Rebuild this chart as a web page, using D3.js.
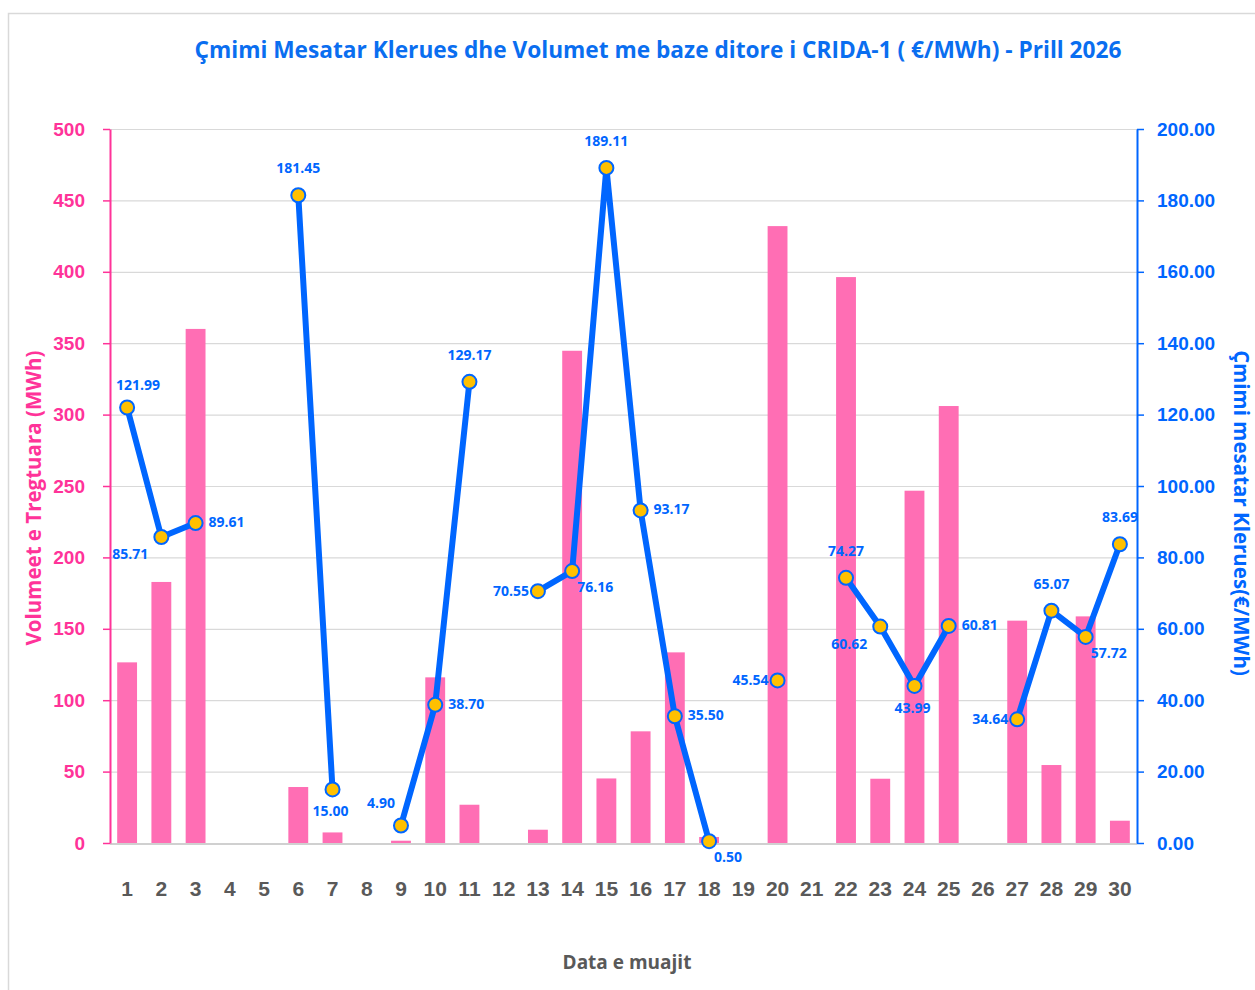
<!DOCTYPE html>
<html>
<head>
<meta charset="utf-8">
<script src="https://cdn.jsdelivr.net/npm/d3@7"></script>
<style>
  body { margin: 0; background: #fff; }
  svg { display: block; font-family: "Open Sans", "Noto Sans", sans-serif; }
</style>
</head>
<body>
<div id="chart"></div>
<script>
// Daily data, April 2026
var days = d3.range(1, 31);
var volume = [126.5, 182.8, 360, 0, 0, 39.2, 7.4, 0, 1.6, 116, 26.8, 0, 9.3, 344.7, 45.2,
  78.2, 133.5, 4.2, 0, 432, 0, 396.3, 45, 246.7, 306, 0, 155.7, 54.6, 158.7, 15.6];
var price = [121.99, 85.71, 89.61, null, null, 181.45, 15.00, null, 4.90, 38.70, 129.17, null,
  70.55, 76.16, 189.11, 93.17, 35.50, 0.50, null, 45.54, null, 74.27, 60.62, 43.99, 60.81,
  null, 34.64, 65.07, 57.72, 83.69];
// where each price label sits relative to its point
var labelSide = ['tr', 'bl', 'r', null, null, 't', 'b', null, 'tl', 'r', 't', null,
  'l', 'br', 't', 'r', 'r', 'br', null, 'l', null, 't', 'bl', 'b', 'r',
  null, 'l', 't', 'br', 't'];
var volTicks = d3.range(0, 501, 50);
var priceTicks = d3.range(0, 201, 20);

var W = 1255, H = 990;
var plotLeft = 110, plotRight = 1137, plotTop = 129, plotBottom = 843;

var pink = '#FF3399', barPink = '#FF6EB4', blue = '#0066FF', grey = '#595959';

var svg = d3.select('#chart').append('svg')
  .attr('width', W)
  .attr('height', H);

// outer frame
svg.append('rect')
  .attr('x', 8.5).attr('y', 13.5)
  .attr('width', 1270).attr('height', 1000)
  .attr('fill', 'none')
  .attr('stroke', '#d9d9d9')
  .attr('stroke-width', 1.5);

var x = d3.scaleBand().domain(days).range([plotLeft, plotRight]).paddingInner(0.42).paddingOuter(0.21);
var yL = d3.scaleLinear().domain([0, 500]).range([plotBottom, plotTop]);
var yR = d3.scaleLinear().domain([0, 200]).range([plotBottom, plotTop]);

// gridlines
svg.append('g')
  .selectAll('line')
  .data(volTicks.filter(d => d > 0))
  .enter().append('line')
  .attr('x1', plotLeft).attr('x2', plotRight)
  .attr('y1', d => yL(d) + 0.5).attr('y2', d => yL(d) + 0.5)
  .attr('stroke', '#d9d9d9')
  .attr('stroke-width', 1.2);

// bars
svg.append('g')
  .selectAll('rect')
  .data(volume)
  .enter().append('rect')
  .attr('x', (d, i) => x(days[i]))
  .attr('width', x.bandwidth())
  .attr('y', d => yL(d))
  .attr('height', d => plotBottom - yL(d))
  .attr('fill', barPink);

// x baseline
svg.append('line')
  .attr('x1', plotLeft).attr('x2', plotRight)
  .attr('y1', plotBottom + 1).attr('y2', plotBottom + 1)
  .attr('stroke', '#d0d0d0')
  .attr('stroke-width', 2);

// left axis
var gL = svg.append('g')
  .attr('transform', 'translate(' + plotLeft + ',0)')
  .call(d3.axisLeft(yL).tickValues(volTicks).tickSize(7).tickPadding(18).tickSizeOuter(0));
gL.select('.domain').attr('stroke', pink).attr('stroke-width', 2);
gL.selectAll('.tick line').attr('stroke', pink).attr('stroke-width', 1.5);
gL.selectAll('.tick text')
  .attr('fill', pink)
  .style('font-size', '19px')
  .style('font-weight', 'bold');

// right axis
var gR = svg.append('g')
  .attr('transform', 'translate(' + plotRight + ',0)')
  .call(d3.axisRight(yR).tickValues(priceTicks).tickSize(7).tickPadding(13).tickSizeOuter(0)
    .tickFormat(d3.format('.2f')));
gR.select('.domain').attr('stroke', blue).attr('stroke-width', 2);
gR.selectAll('.tick line').attr('stroke', blue).attr('stroke-width', 1.5);
gR.selectAll('.tick text')
  .attr('fill', blue)
  .style('font-size', '19px')
  .style('font-weight', 'bold');

// x tick labels
var gX = svg.append('g')
  .attr('transform', 'translate(0,' + plotBottom + ')')
  .call(d3.axisBottom(x).tickSize(0).tickPadding(38));
gX.select('.domain').remove();
gX.selectAll('.tick text')
  .attr('fill', grey)
  .style('font-size', '21px')
  .style('font-weight', 'bold');

// price line, broken where there is no price
var line = d3.line()
  .defined(d => d != null)
  .x((d, i) => x(days[i]) + x.bandwidth() / 2)
  .y(d => yR(d));

svg.append('path')
  .datum(price)
  .attr('d', line)
  .attr('fill', 'none')
  .attr('stroke', blue)
  .attr('stroke-width', 6)
  .attr('stroke-linejoin', 'round');

var pts = price.map((d, i) => ({ day: days[i], v: d, side: labelSide[i] }))
  .filter(d => d.v != null);

svg.append('g')
  .selectAll('circle')
  .data(pts)
  .enter().append('circle')
  .attr('cx', d => x(d.day) + x.bandwidth() / 2)
  .attr('cy', d => yR(d.v))
  .attr('r', 7)
  .attr('fill', '#FFC000')
  .attr('stroke', blue)
  .attr('stroke-width', 2);

var offsets = {
  t: [0, -22, 'middle'], b: [-2, 27, 'middle'],
  l: [-9, 5, 'end'], r: [13, 4, 'start'],
  tl: [-6, -18, 'end'], tr: [-11, -17, 'start'],
  bl: [-13, 22, 'end'], br: [5, 21, 'start']
};

svg.append('g')
  .selectAll('text')
  .data(pts)
  .enter().append('text')
  .attr('x', d => x(d.day) + x.bandwidth() / 2 + offsets[d.side][0])
  .attr('y', d => yR(d.v) + offsets[d.side][1])
  .attr('text-anchor', d => offsets[d.side][2])
  .attr('fill', blue)
  .style('font-size', '14px')
  .style('font-weight', 'bold')
  .text(d => d3.format('.2f')(d.v));

// titles
svg.append('text')
  .attr('x', 658).attr('y', 58)
  .attr('text-anchor', 'middle')
  .attr('fill', '#0A6EF0')
  .attr('textLength', 927)
  .attr('lengthAdjust', 'spacingAndGlyphs')
  .style('font-size', '23px')
  .style('font-weight', 'bold')
  .text('Çmimi Mesatar Klerues dhe Volumet me baze ditore i CRIDA-1 ( €/MWh) - Prill 2026');

svg.append('text')
  .attr('transform', 'translate(41,498) rotate(-90)')
  .attr('text-anchor', 'middle')
  .attr('fill', pink)
  .style('font-size', '20.5px')
  .style('font-weight', 'bold')
  .text('Volumeet e Tregtuara (MWh)');

svg.append('text')
  .attr('transform', 'translate(1234,513) rotate(90)')
  .attr('text-anchor', 'middle')
  .attr('fill', blue)
  .style('font-size', '20.5px')
  .style('font-weight', 'bold')
  .text('Çmimi mesatar Klerues(€/MWh)');

svg.append('text')
  .attr('x', 627).attr('y', 969)
  .attr('text-anchor', 'middle')
  .attr('fill', grey)
  .style('font-size', '19px')
  .style('font-weight', 'bold')
  .text('Data e muajit');
</script>
</body>
</html>
